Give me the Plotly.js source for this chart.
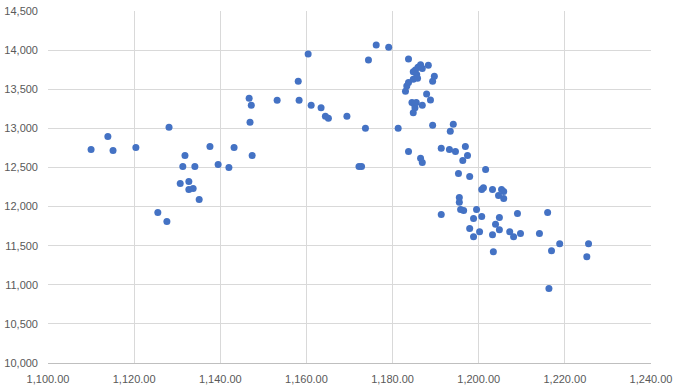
<!DOCTYPE html>
<html>
<head>
<meta charset="utf-8">
<script src="https://cdn.plot.ly/plotly-3.0.1.min.js"></script>
<style>html,body{margin:0;padding:0;background:#fff;}#chart{width:681px;height:391px;}</style>
</head>
<body>
<div id="chart"></div>
<script>
const xValues = [1110.0,1113.9,1115.1,1120.4,1125.5,1127.6,1128.1,1130.7,1131.3,1131.8,1132.7,1132.7,1133.7,1134.1,1135.1,1137.6,1139.5,1142.0,1143.2,1146.7,1146.9,1147.2,1147.4,1153.2,1158.1,1158.3,1160.4,1161.1,1163.4,1164.4,1165.1,1169.4,1172.2,1172.8,1173.7,1174.4,1176.2,1179.1,1181.3,1183.0,1183.3,1183.7,1183.7,1183.7,1184.5,1184.8,1184.8,1184.8,1185.0,1185.2,1185.3,1185.5,1185.6,1185.8,1185.9,1186.5,1186.5,1186.9,1186.9,1186.9,1187.9,1188.3,1188.8,1189.3,1189.3,1189.7,1191.3,1191.3,1193.2,1193.4,1194.1,1194.6,1195.3,1195.5,1195.5,1195.8,1196.5,1196.3,1196.9,1197.4,1197.9,1197.9,1198.8,1198.8,1199.5,1200.2,1200.7,1200.7,1201.1,1201.6,1203.2,1203.2,1203.4,1203.9,1204.6,1204.8,1204.8,1205.3,1205.8,1205.8,1207.2,1208.1,1209.0,1209.7,1214.1,1216.0,1216.3,1216.9,1218.8,1225.1,1225.5];
const yValues = [12730,12897,12718,12756,11923,11808,13013,12295,12513,12654,12321,12218,12231,12513,12090,12769,12539,12500,12756,13385,13077,13295,12654,13359,13603,13359,13949,13295,13264,13154,13128,13154,12513,12513,13000,13872,14064,14038,13000,13474,13542,13585,13885,12705,13331,13722,13628,13200,13314,13264,13747,13331,13687,13641,13782,13812,12619,13764,13295,12564,13440,13808,13363,13603,13038,13667,12744,11897,12731,12962,13051,12705,12423,12115,12055,11962,11949,12590,12769,12654,12385,11718,11846,11615,11962,11679,11872,12218,12239,12474,12218,11641,11423,11773,12141,11859,11705,12218,12192,12103,11679,11615,11910,11654,11654,11923,10953,11436,11526,11359,11526];

const fontFamily = '"Liberation Sans", Arial, sans-serif';
const trace = {
  type: 'scatter', mode: 'markers',
  x: xValues, y: yValues,
  marker: {color: '#4472C4', size: 7},
  hoverinfo: 'skip'
};
const layout = {
  width: 681, height: 391,
  margin: {l: 48, r: 30, t: 11, b: 28},
  paper_bgcolor: '#fff', plot_bgcolor: '#fff',
  showlegend: false,
  font: {family: fontFamily, size: 11, color: '#595959'},
  xaxis: {
    range: [1100, 1240], dtick: 20, tick0: 1100, tickformat: ',.2f',
    showgrid: true, gridcolor: '#d9d9d9', gridwidth: 1,
    zeroline: false, showline: true, linecolor: '#bfbfbf', linewidth: 1,
    ticks: '', ticklabelstandoff: 6, fixedrange: true
  },
  yaxis: {
    range: [10000, 14500], dtick: 500, tick0: 10000, tickformat: ',',
    showgrid: true, gridcolor: '#d9d9d9', gridwidth: 1,
    zeroline: false, showline: false,
    ticks: '', ticklabelstandoff: 9, fixedrange: true
  }
};
Plotly.newPlot('chart', [trace], layout, {displayModeBar: false, staticPlot: true});
</script>
</body>
</html>
